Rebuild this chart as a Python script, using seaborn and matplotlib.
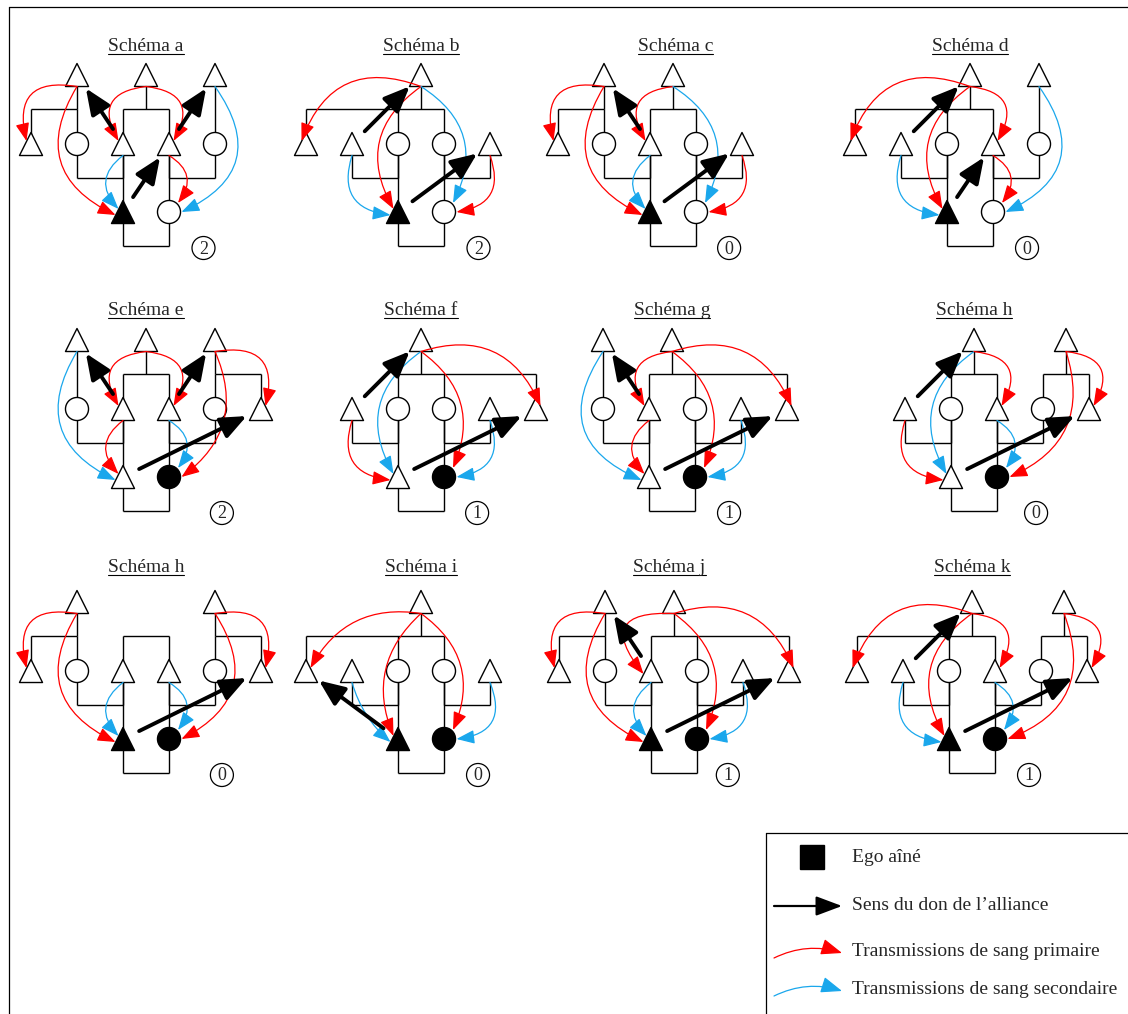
import matplotlib
matplotlib.use("Agg")
import numpy as np
import pandas as pd
import matplotlib.pyplot as plt
from matplotlib.patches import FancyArrowPatch, Circle, Rectangle, ArrowStyle
import seaborn as sns

sns.set_theme(style="white")
plt.rcParams["font.family"] = ["Liberation Serif", "DejaVu Serif"]

# ---- panel data -------------------------------------------------------------
titles = ["Schéma a", "Schéma b", "Schéma c", "Schéma d",
          "Schéma e", "Schéma f", "Schéma g", "Schéma h",
          "Schéma h", "Schéma i", "Schéma j", "Schéma k"]
counts = [2, 2, 0, 0, 2, 1, 1, 0, 0, 0, 1, 1]

panel_x0 = [31, 306, 558, 855, 31, 352, 603, 905, 31, 306, 559, 857]
row_top = [75, 75, 75, 75, 340, 340, 340, 340, 602, 602, 602, 602]
title_base = [51, 51, 51, 51, 315, 315, 315, 315, 572, 572, 572, 572]
title_k = [2.5, 2.5, 2.55, 2.5, 2.5, 1.5, 1.5, 1.5, 2.5, 2.5, 2.4, 2.5]
count_k = [3.75, 3.75, 3.72, 3.74, 4.15, 2.72, 2.74, 2.85, 4.15, 3.74, 3.67, 3.74]

# T triangle, C circle, F filled triangle, D filled circle ; number = column
top_nodes = ["T1 T2.5 T4", "T2.5", "T1 T2.5", "T2.5 T4",
             "T1 T2.5 T4", "T1.5", "T0 T1.5", "T1.5 T3.5",
             "T1 T4", "T2.5", "T1 T2.5", "T2.5 T4.5"]
mid_nodes = ["T0 C1 T2 T3 C4", "T0 T1 C2 C3 T4", "T0 C1 T2 C3 T4", "T0 T1 C2 T3 C4",
             "C1 T2 T3 C4 T5", "T0 C1 C2 T3 T4", "C0 T1 C2 T3 T4", "T0 C1 T2 C3 T4",
             "T0 C1 T2 T3 C4 T5", "T0 T1 C2 C3 T4", "T0 C1 T2 C3 T4 T5", "T0 T1 C2 T3 C4 T5"]
bot_nodes = ["F2 C3", "F2 C3", "F2 C3", "F2 C3",
             "T2 D3", "T1 D2", "T1 D2", "T1 D2",
             "F2 D3", "F2 D3", "F2 D3", "F2 D3"]

# sibling groups under the upper bar: (parent column, children columns)
sib_top = [
    [(1, [0, 1]), (2.5, [2, 3]), (4, [4])],
    [(2.5, [0, 2, 3])],
    [(1, [0, 1]), (2.5, [2, 3])],
    [(2.5, [0, 2, 3]), (4, [4])],
    [(1, [1]), (2.5, [2, 3]), (4, [4, 5])],
    [(1.5, [1, 2, 4])],
    [(0, [0]), (1.5, [1, 2, 4])],
    [(1.5, [1, 2]), (3.5, [3, 4])],
    [(1, [0, 1]), (None, [2, 3]), (4, [4, 5])],
    [(2.5, [0, 2, 3])],
    [(1, [0, 1]), (2.5, [2, 3, 5])],
    [(2.5, [0, 2, 3]), (4.5, [4, 5])],
]
# links under the lower bar
sib_low = [
    [(1, 2), (3, 4)], [(1, 2), (3, 4)], [(1, 2), (3, 4)], [(1, 2), (3, 4)],
    [(1, 2), (3, 4)], [(0, 1), (2, 3)], [(0, 1), (2, 3)], [(0, 1), (2, 3)],
    [(1, 2), (3, 4)], [(1, 2), (3, 4)], [(1, 2), (3, 4)], [(1, 2), (3, 4)],
]

# blood transmissions: (from, anchor, to, anchor, colour r/b, bend)
blood = [
    [("t1", "b", "m0", "ul", "r", -0.75), ("t1", "b", "b2", "l", "r", -0.55),
     ("t2.5", "b", "m2", "ul", "r", -0.75), ("t2.5", "b", "m3", "ur", "r", 0.75),
     ("t4", "b", "b3", "r", "b", 0.6), ("m2", "b", "b2", "ul", "b", -0.55),
     ("m3", "b", "b3", "ur", "r", 0.55)],
    [("t2.5", "b", "m0", "ul", "r", -0.5), ("t2.5", "b", "b2", "ul", "r", -0.45),
     ("t2.5", "b", "b3", "ur", "b", 0.45), ("m1", "b", "b2", "l", "b", -0.6),
     ("m4", "b", "b3", "r", "r", 0.6)],
    [("t1", "b", "m0", "ul", "r", -0.75), ("t1", "b", "b2", "l", "r", -0.55),
     ("t2.5", "b", "m2", "ul", "r", -0.75), ("t2.5", "b", "b3", "ur", "b", 0.45),
     ("m2", "b", "b2", "ul", "b", -0.55), ("m4", "b", "b3", "r", "r", 0.6)],
    [("t2.5", "b", "m0", "ul", "r", -0.5), ("t2.5", "b", "b2", "ul", "r", -0.45),
     ("t2.5", "b", "m3", "ur", "r", 0.75), ("m1", "b", "b2", "l", "b", -0.6),
     ("m3", "b", "b3", "ur", "r", 0.55), ("t4", "b", "b3", "r", "b", 0.6)],
    [("t1", "b", "b2", "l", "b", -0.55), ("t2.5", "b", "m2", "ul", "r", -0.75),
     ("t2.5", "b", "m3", "ur", "r", 0.75), ("t4", "b", "m5", "ur", "r", 0.75),
     ("t4", "b", "b3", "r", "r", 0.4), ("m2", "b", "b2", "ul", "r", -0.55),
     ("m3", "b", "b3", "ur", "b", 0.55)],
    [("t1.5", "b", "b1", "ul", "b", -0.45), ("t1.5", "b", "b2", "ur", "r", 0.4),
     ("t1.5", "b", "m4", "ur", "r", 0.45), ("m0", "b", "b1", "l", "r", -0.6),
     ("m3", "b", "b2", "r", "b", 0.6)],
    [("t0", "b", "b1", "l", "b", -0.6), ("t1.5", "b", "m1", "ul", "r", -0.75),
     ("t1.5", "b", "b2", "ur", "r", 0.4), ("t1.5", "b", "m4", "ur", "r", 0.45),
     ("m1", "b", "b1", "ul", "r", -0.55), ("m3", "b", "b2", "r", "b", 0.6)],
    [("t1.5", "b", "b1", "ul", "b", -0.45), ("t1.5", "b", "m2", "ur", "r", 0.75),
     ("m0", "b", "b1", "l", "r", -0.6), ("m2", "b", "b2", "ur", "b", 0.55),
     ("t3.5", "b", "m4", "ur", "r", 0.75), ("t3.5", "b", "b2", "r", "r", 0.45)],
    [("t1", "b", "m0", "ul", "r", -0.75), ("t1", "b", "b2", "l", "r", -0.55),
     ("t4", "b", "m5", "ur", "r", 0.75), ("t4", "b", "b3", "r", "r", 0.55),
     ("m2", "b", "b2", "ul", "b", -0.55), ("m3", "b", "b3", "ur", "b", 0.55)],
    [("t2.5", "b", "m0", "ur", "r", -0.35), ("t2.5", "b", "b2", "ul", "r", -0.35),
     ("t2.5", "b", "b3", "ur", "r", 0.4), ("m1", "b", "b2", "l", "b", -0.15),
     ("m4", "b", "b3", "r", "b", 0.65)],
    [("t1", "b", "m0", "ul", "r", -0.75), ("t1", "b", "b2", "l", "r", -0.55),
     ("t2.5", "b", "m2", "l", "r", -1.1), ("t2.5", "b", "m5", "ur", "r", 0.45),
     ("t2.5", "b", "b3", "ur", "r", 0.4), ("m2", "b", "b2", "ul", "b", -0.55),
     ("m4", "b", "b3", "r", "b", 0.6)],
    [("t2.5", "b", "m0", "ul", "r", -0.5), ("t2.5", "b", "b2", "ul", "r", -0.45),
     ("t2.5", "b", "m3", "ur", "r", 0.75), ("m1", "b", "b2", "l", "b", -0.6),
     ("m3", "b", "b3", "ur", "b", 0.55), ("t4.5", "b", "m5", "ur", "r", 0.75),
     ("t4.5", "b", "b3", "r", "r", 0.5)],
]

# direction of the alliance gift (thick black arrows)
alliance = [
    [("m2", "t1"), ("m3", "t4"), ("b2", "m3")],
    [("m1", "t2.5"), ("b2", "m4")],
    [("m2", "t1"), ("b2", "m4")],
    [("m1", "t2.5"), ("b2", "m3")],
    [("m2", "t1"), ("m3", "t4"), ("b2", "m5")],
    [("m0", "t1.5"), ("b1", "m4")],
    [("m1", "t0"), ("b1", "m4")],
    [("m0", "t1.5"), ("b1", "m4")],
    [("b2", "m5")],
    [("b2", "m0")],
    [("m2", "t1"), ("b2", "m5")],
    [("m1", "t2.5"), ("b2", "m5")],
]

legend_labels = ["Ego aîné", "Sens du don de l’alliance",
                 "Transmissions de sang primaire", "Transmissions de sang secondaire"]

RED = "#ff0000"
BLUE = "#1aa7ec"
COLORS = {"r": RED, "b": BLUE}

# ---- geometry ---------------------------------------------------------------
COL = 46
MID, BOT = 69, 137
BAR1, BAR2, BAR3 = 34, 103, 171
H = 11.5
TRI_ANCH = {"b": (0, H), "a": (0, -H), "l": (-7.5, 3), "r": (7.5, 3),
            "ul": (-4.5, -3), "ur": (4.5, -3)}
CIRC_ANCH = {"b": (0, H + 0.5), "a": (0, -H - 0.5), "l": (-12.5, 0), "r": (12.5, 0),
             "ul": (-9, -9), "ur": (9, -9)}


def node_table(p):
    x0, T = panel_x0[p], row_top[p]
    d = {}
    for spec, row, dy in ((top_nodes[p], "t", 0), (mid_nodes[p], "m", MID),
                          (bot_nodes[p], "b", BOT)):
        for tok in spec.split():
            d[row + tok[1:]] = (x0 + COL * float(tok[1:]), T + dy, tok[0])
    return d


def anchor(nd, ref, a):
    x, y, s = nd[ref]
    dx, dy = (TRI_ANCH if s in "TF" else CIRC_ANCH)[a]
    return x + dx, y + dy


fig = plt.figure(figsize=(11.28, 10.14), dpi=100)
ax = fig.add_axes([0, 0, 1, 1])

rows = []
for p in range(12):
    for ref, (x, y, s) in node_table(p).items():
        rows.append({"x": x, "y": y,
                     "shape": "tri" if s in "TF" else "circ",
                     "fill": "full" if s in "FD" else "open"})
nodes = pd.DataFrame(rows)

sns.scatterplot(data=nodes, x="x", y="y", style="shape", hue="fill",
                markers={"tri": "^", "circ": "o"},
                palette={"open": "white", "full": "black"},
                s=275, edgecolor="black", linewidth=1.0, legend=False,
                ax=ax, zorder=3)

line_kw = dict(color="black", lw=1.0, zorder=1, solid_capstyle="butt")
for p in range(12):
    x0, T = panel_x0[p], row_top[p]
    nd = node_table(p)
    # upper sibling bars
    for pk, kids in sib_top[p]:
        xs = [x0 + COL * k for k in kids]
        yb = T + BAR1
        if pk is not None:
            px = x0 + COL * pk
            if len(kids) == 1:
                ax.plot([px, px], [T, T + MID], **line_kw)
            else:
                ax.plot([px, px], [T, yb], **line_kw)
        if len(kids) > 1:
            ax.plot([min(xs), max(xs)], [yb, yb], **line_kw)
            for x in xs:
                ax.plot([x, x], [yb, T + MID], **line_kw)
    # lower bars
    y2 = T + BAR2
    for ka, kb in sib_low[p]:
        xa, xb = x0 + COL * ka, x0 + COL * kb
        ax.plot([xa, xa], [T + MID, y2], **line_kw)
        ax.plot([xb, xb], [T + MID, y2], **line_kw)
        ax.plot([xa, xb], [y2, y2], **line_kw)
    # ego siblings
    bx = [v[0] for k, v in nd.items() if k.startswith("b")]
    for x in bx:
        ax.plot([x, x], [T + MID, T + BOT], **line_kw)
        ax.plot([x, x], [T + BOT, T + BAR3], **line_kw)
    ax.plot([min(bx), max(bx)], [T + BAR3, T + BAR3], **line_kw)

    # blood transmissions
    for fr, fa, to, ta, c, rad in blood[p]:
        a = FancyArrowPatch(anchor(nd, fr, fa), anchor(nd, to, ta),
                            connectionstyle=f"arc3,rad={-rad}",
                            arrowstyle=ArrowStyle("-|>", head_length=1.1, head_width=0.42),
                            mutation_scale=10, lw=0.9, color=COLORS[c],
                            shrinkA=0, shrinkB=0, zorder=4)
        ax.add_patch(a)

    # alliance arrows
    for fr, to in alliance[p]:
        P = np.array(nd[fr][:2])
        Q = np.array(nd[to][:2])
        u = (Q - P) / np.linalg.norm(Q - P)
        a = FancyArrowPatch(P + u * 18, Q - u * 16,
                            arrowstyle=ArrowStyle("-|>", head_length=1.3, head_width=0.55),
                            mutation_scale=12, lw=2.8, color="black",
                            shrinkA=0, shrinkB=0, zorder=5)
        ax.add_patch(a)

    # count
    cx, cy = x0 + COL * count_k[p], T + BAR3 + 2
    ax.add_patch(Circle((cx, cy), 11.5, fill=False, ec="black", lw=0.9, zorder=3))
    ax.text(cx, cy + 1, str(counts[p]), ha="center", va="center", fontsize=13)

title_objs = []
for p in range(12):
    t = ax.text(panel_x0[p] + COL * title_k[p], title_base[p], titles[p],
                ha="center", va="baseline", fontsize=14)
    title_objs.append(t)

# frame and legend box
ax.plot([9, 9], [7, 1014], color="black", lw=0.9)
ax.plot([9, 1128], [7, 7], color="black", lw=0.9)
ax.plot([766, 766], [833, 1014], color="black", lw=0.9)
ax.plot([766, 1128], [833, 833], color="black", lw=0.9)

ax.add_patch(Rectangle((800, 845), 24, 24, color="black"))
ax.add_patch(FancyArrowPatch((774, 906), (842, 906),
                             arrowstyle=ArrowStyle("-|>", head_length=1.6, head_width=0.6),
                             mutation_scale=10, lw=1.6, color="black", shrinkA=0, shrinkB=0))
for yy, col in ((953, RED), (991, BLUE)):
    ax.add_patch(FancyArrowPatch((774, yy + 5), (842, yy),
                                 connectionstyle="arc3,rad=-0.2",
                                 arrowstyle=ArrowStyle("-|>", head_length=1.3, head_width=0.5),
                                 mutation_scale=10, lw=0.9, color=col, shrinkA=0, shrinkB=0))
for yy, lab in zip((857, 906, 952, 990), legend_labels):
    ax.text(852, yy, lab, ha="left", va="center", fontsize=14)

ax.set_xlim(0, 1128)
ax.set_ylim(1014, 0)
ax.axis("off")

# underline titles
fig.canvas.draw()
inv = ax.transData.inverted()
r = fig.canvas.get_renderer()
for p, t in enumerate(title_objs):
    bb = t.get_window_extent(r)
    (xa, _), (xb, _) = inv.transform([[bb.x0, bb.y0], [bb.x1, bb.y1]])
    yl = title_base[p] + 3
    ax.plot([xa, xb], [yl, yl], color="black", lw=0.8)

fig.savefig("out.png", dpi=100)
